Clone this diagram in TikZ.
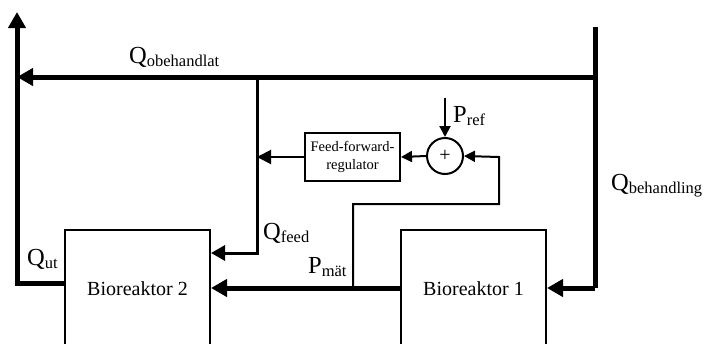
\documentclass[tikz,border=0pt]{standalone}
\usepackage{fontspec}
\setmainfont{Liberation Serif}
\usetikzlibrary{arrows.meta}
\newcommand{\mylbl}[2]{{\fontsize{24.5}{24.5}\selectfont #1}{\fontsize{16.5}{16.5}\selectfont\raisebox{-3pt}{#2}}}
\begin{document}
\begin{tikzpicture}[x=1pt,y=-1pt,
  flowthick/.style={line width=5pt,-{Triangle[length=16pt,width=17pt]}},
  flowthicknoarrow/.style={line width=5pt},
  flowmid/.style={line width=3pt,-{Triangle[length=14pt,width=15pt]}},
  sig/.style={line width=2pt,-{Triangle[length=11pt,width=11pt]}},
  sigmid/.style={line width=2pt,-{Triangle[length=14pt,width=14pt]}},
  box/.style={draw,line width=2pt,inner sep=0pt},
  lbl/.style={anchor=base west,inner sep=0pt}]
\useasboundingbox (0,0) rectangle (707,343);
\clip (0,0) rectangle (707,343);
% reactors
\node[box,minimum width=145pt,minimum height=120pt,anchor=north,font=\fontsize{20}{22}\selectfont] (b2) at (137.5,229) {\raisebox{3pt}{Bioreaktor 2}};
\node[box,minimum width=145pt,minimum height=120pt,anchor=north,font=\fontsize{20}{22}\selectfont] (b1) at (473.5,229) {\raisebox{3pt}{Bioreaktor 1}};
% feed-forward regulator and summation
\node[box,minimum width=95pt,minimum height=48pt,align=center,font=\fontsize{14.5}{18}\selectfont] (ff) at (352.5,157) {Feed-forward-\\regulator};
\node[draw,circle,line width=2pt,minimum size=36pt,inner sep=0pt,font=\fontsize{20}{20}\selectfont] (sum) at (445,156) {+};
% coordinates
\coordinate (topright) at (595,27);
\coordinate (rightcorner) at (595,288);
\coordinate (juncR) at (595,77);
\coordinate (juncL) at (17,77);
\coordinate (juncF) at (257,77);
\coordinate (fcorner) at (257,253);
\coordinate (ffin) at (257,157);
\coordinate (outtop) at (17,12);
\coordinate (outcorner) at (17,283);
\coordinate (prefstart) at (445,98);
\coordinate (pm) at (353,288);
\coordinate (fb1) at (353,204);
\coordinate (fb2) at (499,204);
\coordinate (fb3) at (499,157);
% signal lines
\draw[sig] (prefstart) -- (sum.north);
\draw[sig] (sum.west) -- (ff.east);
\draw[sigmid] (ff.west) -- (ffin);
\draw[sig] (pm) -- (fb1) -- (fb2) -- (fb3) -- (sum.east);
% flows
\draw[flowmid] (juncF) -- (fcorner) -- (fcorner -| b2.east);
\draw[flowthicknoarrow] (topright) -- (rightcorner);
\draw[flowthick] (rightcorner) -- (rightcorner -| b1.east);
\draw[flowthick] (juncR) -- (juncL);
\draw[flowthick] (b1.west |- pm) -- (b2.east |- pm);
\draw[flowthick] (outcorner -| b2.west) -- (outcorner) -- (outtop);
% labels
\node[lbl] (lobeh) at (129,63) {\mylbl{Q}{obehandlat}};
\node[lbl] (lpref) at (453,122) {\mylbl{P}{ref}};
\node[lbl] (lbeh) at (611,190) {\mylbl{Q}{behandling}};
\node[lbl] (lfeed) at (263,239) {\mylbl{Q}{feed}};
\node[lbl] (lut) at (27,265) {\mylbl{Q}{ut}};
\node[lbl] (lpmat) at (308,273) {\mylbl{P}{mät}};
\end{tikzpicture}
\end{document}
